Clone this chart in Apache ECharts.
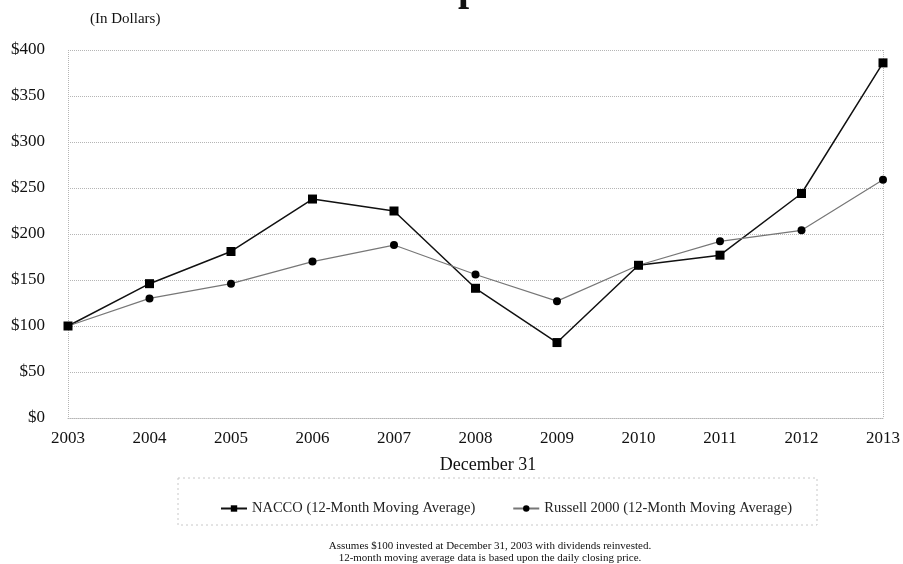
<!DOCTYPE html>
<html>
<head>
<meta charset="utf-8">
<script src="https://cdn.jsdelivr.net/npm/echarts@6/dist/echarts.min.js"></script>
<style>
    html, body { margin: 0; padding: 0; background: #fff; }
    #chart { width: 903px; height: 564px; }
</style>
</head>
<body>
<div id="chart"></div>
<script>
// data
const years = ['2003', '2004', '2005', '2006', '2007', '2008', '2009', '2010', '2011', '2012', '2013']
const nacco = [100, 146, 181, 238, 225, 141, 82, 166, 177, 244, 386]
const russell = [100, 130, 146, 170, 188, 156, 127, 166, 192, 204, 259]
const seriesNames = ['NACCO (12-Month Moving Average)', 'Russell 2000 (12-Month Moving Average)']

const serif = '"Liberation Serif", "DejaVu Serif", serif'
const gridColor = '#b5b5b5'

const chart = echarts.init(document.getElementById('chart'))

const option = {
    animation: false,
    backgroundColor: '#fff',
    textStyle: { fontFamily: serif },
    grid: {
        left: 68,
        right: 20,
        top: 50,
        bottom: 146
    },
    legend: {
        left: 215,
        top: 496,
        itemGap: 37,
        itemWidth: 26,
        itemHeight: 8,
        textStyle: { fontFamily: serif, fontSize: 14.5, color: '#222' },
        data: seriesNames
    },
    xAxis: {
        type: 'category',
        data: years,
        boundaryGap: false,
        name: 'December 31',
        nameLocation: 'middle',
        nameGap: 38,
        nameTextStyle: { fontFamily: serif, fontSize: 18, color: '#111', padding: [0, 0, 0, 25] },
        axisLine: { lineStyle: { color: gridColor, type: 'dotted' } },
        axisTick: { show: false },
        axisLabel: { fontFamily: serif, fontSize: 17, color: '#111', margin: 12 },
        splitLine: {
            show: true,
            interval: (i) => i === 0 || i === years.length - 1,
            lineStyle: { color: gridColor, type: 'dotted' }
        }
    },
    yAxis: {
        type: 'value',
        min: 0,
        max: 400,
        interval: 50,
        axisLine: { show: false },
        axisTick: { show: false },
        axisLabel: {
            fontFamily: serif,
            fontSize: 17,
            color: '#111',
            margin: 23,
            formatter: '${value}'
        },
        splitLine: { lineStyle: { color: gridColor, type: 'dotted' } }
    },
    series: [
        {
            name: seriesNames[0],
            type: 'line',
            data: nacco,
            symbol: 'rect',
            symbolSize: 9,
            itemStyle: { color: '#000' },
            lineStyle: { color: '#111', width: 1.5 }
        },
        {
            name: seriesNames[1],
            type: 'line',
            data: russell,
            symbol: 'circle',
            symbolSize: 8,
            itemStyle: { color: '#000' },
            lineStyle: { color: '#777', width: 1.2 }
        }
    ],
    graphic: [
        // bottom of the cut-off title
        {
            type: 'text',
            left: 458,
            top: -30,
            style: { text: 'p', font: 'bold 40px ' + serif, fill: '#111' }
        },
        {
            type: 'text',
            left: 90,
            top: 12,
            style: { text: '(In Dollars)', font: '15px ' + serif, fill: '#111' }
        },
        // legend frame
        {
            type: 'rect',
            shape: { x: 178, y: 478, width: 639, height: 47 },
            style: { fill: 'none', stroke: '#c8c8c8', lineWidth: 1, lineDash: [2, 3] }
        },
        {
            type: 'text',
            x: 490,
            y: 540,
            style: {
                text: 'Assumes $100 invested at December 31, 2003 with dividends reinvested.\n12-month moving average data is based upon the daily closing price.',
                font: '11px ' + serif,
                fill: '#111',
                align: 'center',
                lineHeight: 12
            }
        }
    ]
}

chart.setOption(option)
</script>
</body>
</html>
